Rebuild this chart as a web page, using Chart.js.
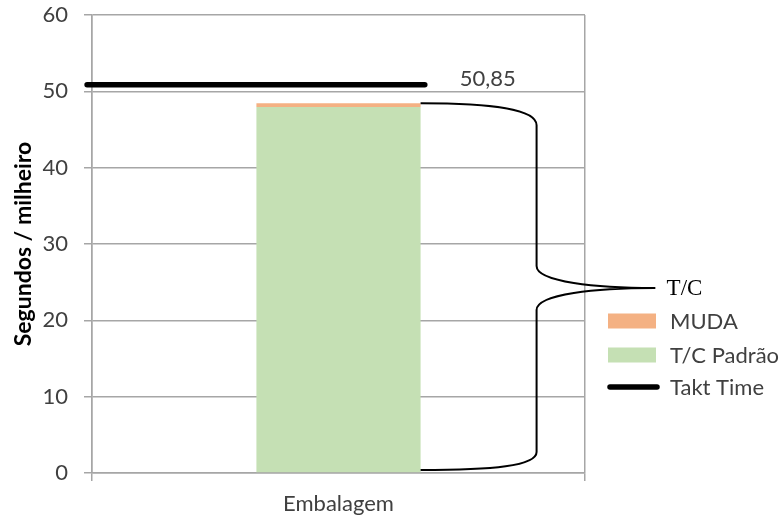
<!DOCTYPE html>
<html>
<head>
<meta charset="utf-8">
<script src="https://cdn.jsdelivr.net/npm/chart.js@4/dist/chart.umd.min.js"></script>
<style>
  html, body { margin: 0; padding: 0; background: #ffffff; }
  #wrap { width: 783px; height: 519px; }
</style>
</head>
<body>
<div id="wrap"><canvas id="chart"></canvas></div>
<script>
// Cycle time breakdown for the packaging station
const categories = ['Embalagem'];
const tcPadrao = [47.95];        // standard cycle time (s / thousand)
const muda = [0.5];              // waste on top of the standard time
const taktTime = 50.85;          // takt time (s / thousand)
const taktSpan = [-0.01, 0.675]; // horizontal extent of the takt line on the helper axis
const yMin = 0, yMax = 60, yStep = 10;

const FONT = 'Lato, "Liberation Sans", sans-serif';
const GRID = '#a6a6a6';
const TEXT = '#404040';

const fmtComma = v => v.toFixed(2).replace('.', ',');

// Brace around the stacked bar, its "T/C" label, the takt value label and the legend
const extras = {
  id: 'extras',
  afterDatasetsDraw(chart) {
    const { ctx, scales, chartArea } = chart;
    const y = scales.y;
    const topBar = chart.getDatasetMeta(1).data[0];
    const total = tcPadrao[0] + muda[0];

    // curly brace
    const x0 = topBar.x + topBar.width / 2;
    const xs = x0 + 116;
    const xt = x0 + 234;
    const yTop = y.getPixelForValue(total);
    const yBot = y.getPixelForValue(0) - 3;
    const yMid = y.getPixelForValue(total / 2);
    ctx.save();
    ctx.strokeStyle = '#000000';
    ctx.lineWidth = 2;
    ctx.lineJoin = 'round';
    ctx.beginPath();
    ctx.moveTo(x0, yTop);
    ctx.bezierCurveTo(x0 + 72, yTop, xs, yTop + 6, xs, yTop + 22);
    ctx.lineTo(xs, yMid - 22);
    ctx.bezierCurveTo(xs, yMid - 6, xs + 60, yMid, xt, yMid);
    ctx.bezierCurveTo(xs + 60, yMid, xs, yMid + 6, xs, yMid + 22);
    ctx.lineTo(xs, yBot - 18);
    ctx.bezierCurveTo(xs, yBot - 4, x0 + 72, yBot, x0, yBot);
    ctx.stroke();

    ctx.fillStyle = '#000000';
    ctx.font = '23px "Liberation Serif", serif';
    ctx.textAlign = 'left';
    ctx.textBaseline = 'middle';
    ctx.fillText('T/C', xt + 12, yMid + 1);

    // takt value label at the end of the takt line
    const xt2 = scales.xt;
    ctx.fillStyle = TEXT;
    ctx.font = '22px ' + FONT;
    ctx.textBaseline = 'middle';
    ctx.fillText(fmtComma(taktTime), xt2.getPixelForValue(taktSpan[1]) + 35, y.getPixelForValue(taktTime) - 6);

    // legend
    const lx = chartArea.right + 23;
    const rows = [321, 355, 387];
    const items = [chart.data.datasets[1], chart.data.datasets[0], chart.data.datasets[2]];
    items.forEach((ds, i) => {
      const cy = rows[i];
      if (ds.type === 'line') {
        ctx.strokeStyle = ds.borderColor;
        ctx.lineWidth = 5.5;
        ctx.lineCap = 'round';
        ctx.beginPath();
        ctx.moveTo(lx + 2, cy);
        ctx.lineTo(lx + 49, cy);
        ctx.stroke();
      } else {
        ctx.fillStyle = ds.backgroundColor;
        ctx.fillRect(lx, cy - 7.5, 48, 15);
      }
      ctx.fillStyle = TEXT;
      ctx.font = '22px ' + FONT;
      ctx.textAlign = 'left';
      ctx.textBaseline = 'middle';
      ctx.fillText(ds.label, lx + 62, cy + 1);
    });
    ctx.restore();
  }
};

new Chart(document.getElementById('chart'), {
  data: {
    labels: categories,
    datasets: [
      {
        type: 'bar',
        label: 'T/C Padrão',
        data: tcPadrao,
        backgroundColor: '#c5e0b4',
        categoryPercentage: 0.333,
        barPercentage: 1,
        grouped: false,
        order: 2
      },
      {
        type: 'bar',
        label: 'MUDA',
        data: muda,
        backgroundColor: '#f4b183',
        categoryPercentage: 0.333,
        barPercentage: 1,
        grouped: false,
        order: 2
      },
      {
        type: 'line',
        label: 'Takt Time',
        xAxisID: 'xt',
        data: taktSpan.map(x => ({ x, y: taktTime })),
        borderColor: '#000000',
        borderWidth: 5.5,
        borderCapStyle: 'round',
        pointRadius: 0,
        clip: false,
        order: 1
      }
    ]
  },
  plugins: [extras],
  options: {
    responsive: true,
    maintainAspectRatio: false,
    animation: false,
    layout: { padding: { top: 15, right: 198, left: 0, bottom: 0 } },
    plugins: {
      legend: { display: false },
      tooltip: { enabled: false }
    },
    scales: {
      x: {
        type: 'category',
        stacked: true,
        offset: true,
        grid: { offset: true, color: GRID, lineWidth: 1.5, tickLength: 8, tickColor: GRID },
        border: { color: GRID, width: 1.5 },
        ticks: { color: TEXT, font: { family: FONT, size: 22 }, padding: 10 },
        afterFit(s) { s.height = 46; s.paddingLeft = 0; s.paddingRight = 0; }
      },
      xt: {
        type: 'linear',
        display: false,
        min: 0,
        max: 1
      },
      y: {
        type: 'linear',
        stacked: true,
        min: yMin,
        max: yMax,
        ticks: { stepSize: yStep, color: TEXT, font: { family: FONT, size: 22 }, padding: 16 },
        grid: { color: GRID, lineWidth: 1.5, tickLength: 8, tickColor: GRID },
        border: { color: GRID, width: 1.5 },
        title: {
          display: true,
          text: 'Segundos / milheiro',
          color: '#000000',
          font: { family: FONT, size: 23, weight: 'bold' },
          padding: { top: 10, bottom: 0 }
        },
        afterFit(s) { s.width = 92; s.paddingTop = 0; s.paddingBottom = 0; }
      }
    }
  }
});
</script>
</body>
</html>
